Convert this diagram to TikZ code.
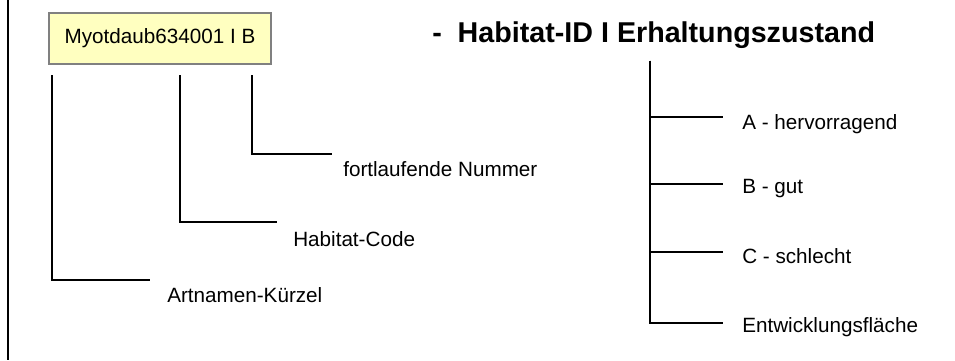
\documentclass[tikz,border=0pt]{standalone}
\usepackage{fontspec}
\setmainfont{Liberation Sans}
\definecolor{boxfill}{HTML}{FFFFC0}
\definecolor{boxline}{HTML}{808080}
\tikzset{
	branch/.style={line width=1.9pt},
	caption/.style={anchor=base west, inner sep=0pt, font=\fontsize{15.5}{18}\selectfont},
	idbox/.style={draw=boxline, line width=1.6pt, fill=boxfill, minimum width=166.5pt, minimum height=38.25pt, inner sep=0pt, font=\fontsize{15.5}{18}\selectfont},
	headline/.style={anchor=base west, inner sep=0pt, font=\bfseries\fontsize{21.5}{24}\selectfont},
}
\begin{document}
\begin{tikzpicture}[x=0.75pt, y=-0.75pt]
	\useasboundingbox (0,0) rectangle (955,360);

	% Define frame
	\coordinate (FrameTop) at (8,0);
	\coordinate (FrameBottom) at (8,360);
	\draw[branch] (FrameTop) -- (FrameBottom);

	% Define ID box
	\node[idbox] (IDBox) at (160,38.5) {Myotdaub634001 I B};

	% Define Artnamen-Kuerzel
	\coordinate (TopArt) at (52,75);
	\coordinate (EndArt) at (150,280);
	\node[caption] (Art) at (167,302) {Artnamen-Kürzel};
	\draw[branch] (TopArt) |- (EndArt);

	% Define Habitat-Code
	\coordinate (TopCode) at (180,75);
	\coordinate (EndCode) at (277,222);
	\node[caption] (Code) at (293,246) {Habitat-Code};
	\draw[branch] (TopCode) |- (EndCode);

	% Define fortlaufende Nummer
	\coordinate (TopNum) at (252,75);
	\coordinate (EndNum) at (332,154);
	\node[caption] (Num) at (343,176) {fortlaufende Nummer};
	\draw[branch] (TopNum) |- (EndNum);

	% Define Erhaltungszustand
	\node[headline] (Title) at (432,43) {-\ \ Habitat-ID I Erhaltungszustand};
	\coordinate (Stem) at (650,61);
	\coordinate (StemEnd) at (650,323);
	\draw[branch] (Stem) -- (StemEnd);

	\coordinate (EndA) at (723,117);
	\node[caption] (StateA) at (742,129) {A - hervorragend};
	\draw[branch] (Stem) |- (EndA);

	\coordinate (EndB) at (723,184);
	\node[caption] (StateB) at (742,193) {B - gut};
	\draw[branch] (Stem) |- (EndB);

	\coordinate (EndC) at (723,252);
	\node[caption] (StateC) at (742,263) {C - schlecht};
	\draw[branch] (Stem) |- (EndC);

	\coordinate (EndE) at (723,323);
	\node[caption] (StateE) at (742,332) {Entwicklungsfläche};
	\draw[branch] (Stem) |- (EndE);
\end{tikzpicture}
\end{document}
